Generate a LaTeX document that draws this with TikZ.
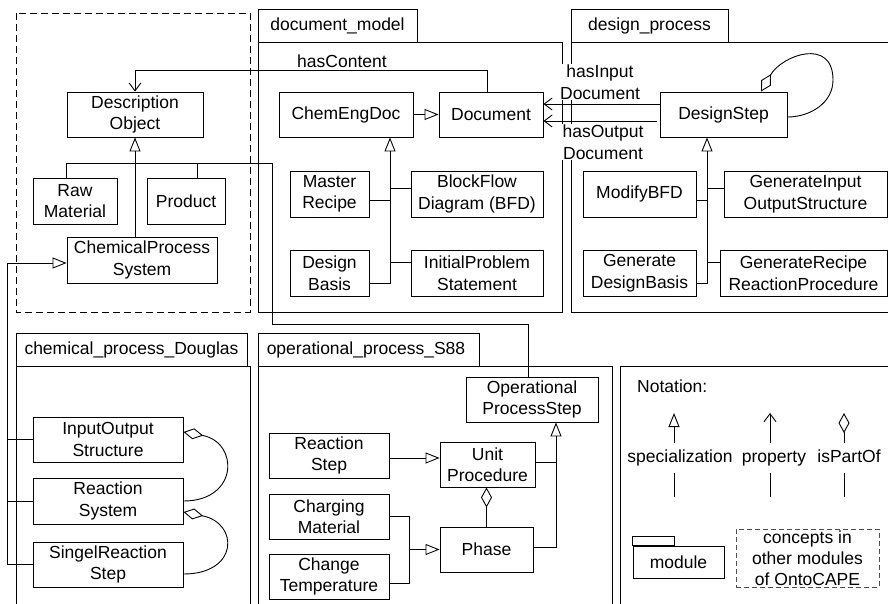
\documentclass[tikz,border=0pt]{standalone}
\usepackage{fontspec}
\setmainfont{Liberation Sans}
\usetikzlibrary{arrows.meta}
\begin{document}
\begin{tikzpicture}[x=1pt,y=-1pt,
  every node/.style={font=\fontsize{17.5}{21.5}\selectfont, inner sep=0pt},
  box/.style={draw, fill=white, line width=0.9pt, align=center, minimum height=45pt},
  pkg/.style={draw, line width=0.9pt},
  link/.style={line width=0.9pt},
  spec/.style={link, -{Triangle[open,length=14pt,width=11pt]}},
  prop/.style={link, -{Straight Barb[length=8pt,width=12pt]}},
  part/.style={link, -{Diamond[open,length=20pt,width=11pt]}},
  lbl/.style={fill=white, align=center, inner xsep=1pt, inner ysep=1pt},
  legend/.style={inner ysep=7pt, text height=12.8pt, text depth=3.7pt},
]
\useasboundingbox (0,0) rectangle (888,603);
\fill[white] (0,0) rectangle (888,603);
\clip (0,0) rectangle (888,603);

% ---------- module frames ----------
% concepts of other modules
\draw[pkg, dash pattern=on 7pt off 4pt] (16,13) rectangle (250,312);
% document_model
\draw[pkg] (258,9) rectangle (417,42);
\node (tabdm) at (337.5,25.5) {document\_model};
\draw[pkg] (258,42) rectangle (562,312);
% design_process
\draw[pkg] (571,9) rectangle (728,42);
\node (tabdp) at (649.5,25.5) {design\_process};
\draw[pkg] (900,42) -- (571,42) -- (571,312) -- (900,312);
% chemical_process_Douglas
\draw[pkg] (16,333) rectangle (247,366);
\node (tabcp) at (131.5,349.5) {chemical\_process\_Douglas};
\draw[pkg] (16,620) -- (16,366) -- (250,366) -- (250,620);
% operational_process_S88
\draw[pkg] (258,333) rectangle (479,366);
\node (tabop) at (366,349.5) {operational\_process\_S88};
\draw[pkg] (258,620) -- (258,366) -- (612,366) -- (612,620);
% notation frame
\draw[pkg] (900,366) -- (620,366) -- (620,620);

% ---------- classes ----------
\node[box, minimum width=136pt] (descobj) at (135,114.5) {Description\\Object};
\node[box, minimum width=84pt, minimum height=46pt] (rawmat) at (75,201) {Raw\\Material};
\node[box, minimum width=78pt, minimum height=46pt] (product) at (186,201) {Product};
\node[box, minimum width=150pt, minimum height=46pt] (cps) at (142,260) {ChemicalProcess\\System};

\node[box, minimum width=134pt] (chemengdoc) at (346,114.5) {ChemEngDoc};
\node[box, minimum width=104pt] (document) at (491,114.5) {Document};
\node[box, minimum width=79pt, minimum height=46pt] (masterrecipe) at (329.5,194) {Master\\Recipe};
\node[box, minimum width=132pt, minimum height=46pt] (bfd) at (477,194) {BlockFlow\\Diagram (BFD)};
\node[box, minimum width=79pt, minimum height=46pt] (designbasis) at (329.5,273) {Design\\Basis};
\node[box, minimum width=132pt, minimum height=46pt] (ips) at (477,273) {InitialProblem\\Statement};

\node[box, minimum width=127pt] (designstep) at (723.5,114.5) {DesignStep};
\node[box, minimum width=113pt, minimum height=46pt] (modifybfd) at (639.5,194) {ModifyBFD};
\node[box, minimum width=163pt, minimum height=46pt] (gios) at (805.5,194) {GenerateInput\\OutputStructure};
\node[box, minimum width=113pt, minimum height=46pt] (gdb) at (639.5,273) {Generate\\DesignBasis};
\node[box, minimum width=167pt, minimum height=46pt] (grrp) at (803.5,273) {GenerateRecipe\\ReactionProcedure};

\node[box, minimum width=150pt] (ios) at (108,439.5) {InputOutput\\Structure};
\node[box, minimum width=150pt, minimum height=46pt] (rs) at (108,501) {Reaction\\System};
\node[box, minimum width=150pt] (srs) at (108,564.5) {SingelReaction\\Step};

\node[box, minimum width=132pt] (ops) at (532,399.5) {Operational\\ProcessStep};
\node[box, minimum width=120pt] (reactionstep) at (329,455.5) {Reaction\\Step};
\node[box, minimum width=95pt] (unitproc) at (487.5,464.5) {Unit\\Procedure};
\node[box, minimum width=120pt] (charging) at (329,516.5) {Charging\\Material};
\node[box, minimum width=120pt] (changetemp) at (329,576.5) {Change\\Temperature};
\node[box, minimum width=93pt] (phase) at (486.5,549.5) {Phase};

% ---------- specializations of DescriptionObject ----------
\draw[spec] (cps.north -| descobj.south) -- (descobj.south);
\draw[link] ([xshift=-9pt]rawmat.north) |- (272,163) -- (272,324) -| ([xshift=-4pt]ops.north);
\draw[link] ([xshift=11pt]product.north) -- ++(0,-15);

\coordinate (lx) at (7,0);
\draw[spec] (srs.west) -- (srs.west -| lx) |- ([yshift=-3pt]cps.west);
\draw[link] (ios.west) -- (ios.west -| lx);
\draw[link] (rs.west) -- (rs.west -| lx);

% ---------- document_model ----------
\draw[prop] ([xshift=-4pt]document.north) |- ([yshift=21pt]descobj.north) -- (descobj.north);
\node[anchor=west] (hascontent) at (297,61) {hasContent};
\draw[spec] (chemengdoc) -- (document);
\coordinate (dmx) at (390,0);
\draw[spec] ([yshift=-10pt]designbasis.east) -| (chemengdoc.south -| dmx);
\draw[link] ([yshift=-6pt]masterrecipe.east) -- ++(21,0);
\draw[link] ([yshift=6pt]bfd.west) -- ++(-21,0);
\draw[link] ([yshift=11pt]ips.west) -- ++(-21,0);

% ---------- design_process ----------
\coordinate (dpx) at (707,0);
\draw[spec] ([yshift=-10pt]gdb.east) -| (designstep.south -| dpx);
\draw[link] ([yshift=-6pt]modifybfd.east) -- ++(11,0);
\draw[link] ([yshift=6pt]gios.west) -- ++(-17,0);
\draw[link] ([yshift=11pt]grrp.west) -- ++(-13,0);

\draw[prop] ([yshift=10.5pt]designstep.west) -- ([yshift=10.5pt]document.east);
\draw[prop] ([xshift=-3pt,yshift=-6.5pt]designstep.west) -- ([yshift=-6.5pt]document.east);
\node[lbl] (hasin) at (600,82) {hasInput\\Document};
\node[lbl] (hasout) at (603,142) {hasOutput\\Document};

\draw[part] ([yshift=-2.5pt]designstep.east) .. controls (810,117) and (833,103) .. (833,80)
  .. controls (833,37) and (782,55) .. ([xshift=37.5pt]designstep.north);

% ---------- chemical_process_Douglas ----------
\draw[part] (rs.east) .. controls (239,501) and (239,442) .. ([yshift=7.5pt]ios.east);
\draw[part] ([yshift=-9.5pt]srs.east) .. controls (239,574) and (239,523) .. ([yshift=-11pt]rs.east);

% ---------- operational_process_S88 ----------
\draw[spec] ([yshift=-2.5pt]reactionstep.east) -- ([yshift=6.5pt]unitproc.west);
\coordinate (jx) at (409,0);
\draw[link] (charging.east) -| (409,583) -- ([yshift=-6.5pt]changetemp.east);
\draw[spec] (phase.west -| jx) -- (phase.west);
\draw[part] (phase.north) -- (phase.north |- unitproc.south);
\draw[link] ([yshift=2.5pt]unitproc.east) -- ++(21,0);
\draw[spec] ([yshift=2.5pt]phase.east) -| ([xshift=24pt]ops.south);

% ---------- notation ----------
\node[anchor=west] (notation) at (637,386) {Notation:};
\node[legend] (nspec) at (680,458) {specialization};
\node[legend] (nprop) at (774,458) {property};
\node[legend] (npart) at (849,458) {isPartOf};
\coordinate (sbot) at (674,497); \coordinate (stop) at (674,413);
\coordinate (pbot) at (770,497); \coordinate (ptop) at (770,413);
\coordinate (dbot) at (844,497); \coordinate (dtop) at (844,413);
\draw[link] (sbot) -- (nspec.south -| sbot);
\draw[spec] (nspec.north -| stop) -- (stop);
\draw[link] (pbot) -- (nprop.south -| pbot);
\draw[prop] (nprop.north -| ptop) -- (ptop);
\draw[link] (dbot) -- (npart.south -| dbot);
\draw[part] (npart.north -| dtop) -- (dtop);

\node[draw, line width=0.9pt, minimum width=91pt, minimum height=32pt] (module) at (678.5,562) {module};
\draw[pkg] (module.north west) rectangle ++(42,-9);
\node[draw=gray!60!black, line width=0.9pt, dash pattern=on 5pt off 3pt, minimum width=143pt, minimum height=58pt,
  align=center, font=\fontsize{17.5}{21}\selectfont] (concepts) at (807.5,558) {concepts in\\other modules\\of OntoCAPE};
\end{tikzpicture}
\end{document}
